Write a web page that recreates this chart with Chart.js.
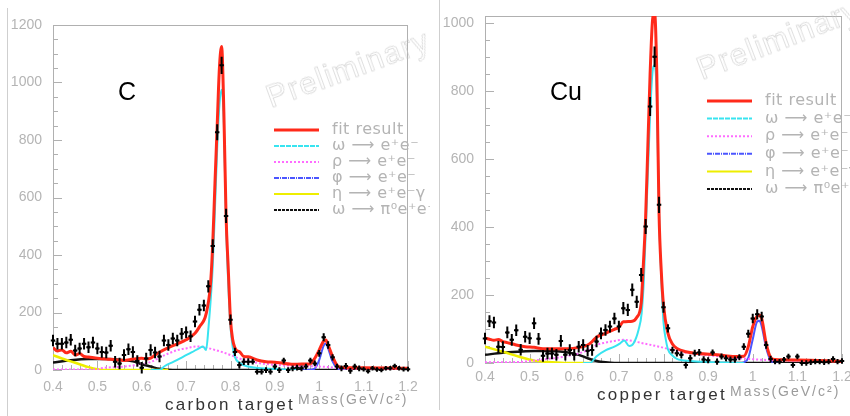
<!DOCTYPE html>
<html>
<head>
<meta charset="utf-8">
<script src="https://cdn.jsdelivr.net/npm/chart.js@4.4.1/dist/chart.umd.min.js"></script>
<style>
  html, body { margin: 0; padding: 0; background: #fff; }
  body { width: 850px; height: 416px; position: relative; overflow: hidden; font-family: "Liberation Sans", Arial, sans-serif; }
  canvas { position: absolute; top: 0; }
  .vline { position: absolute; width: 1px; background: #cfcfcf; }
  .txt { position: absolute; white-space: nowrap; line-height: 1; }
  .tag { font-size: 25px; color: #000; }
  .target { font-size: 17px; color: #333; letter-spacing: 2.3px; }
  .mass { font-size: 14px; color: #9c9c9c; letter-spacing: 2px; }
  .prelim { font-size: 31px; color: rgba(255,255,255,0); -webkit-text-stroke: 0.5px #c6c6c6; letter-spacing: 1.5px; transform-origin: 0 26px; }
</style>
</head>
<body>
<div class="vline" style="left:7px; top:8px; height:408px"></div>
<div class="vline" style="left:439px; top:0; height:410px"></div>
<canvas id="carbonChart" width="430" height="416" style="left:0"></canvas>
<canvas id="copperChart" width="420" height="416" style="left:430px"></canvas>
<div class="txt tag" style="left:118px; top:79px">C</div>
<div class="txt tag" style="left:550px; top:79px">Cu</div>
<div class="txt target" style="left:165px; top:396px">carbon target</div>
<div class="txt mass" style="left:298px; top:392px">Mass(GeV/c²)</div>
<div class="txt target" style="left:597px; top:386px">copper target</div>
<div class="txt mass" style="left:730px; top:384px">Mass(GeV/c²)</div>
<div class="txt prelim" style="left:271px; top:82px; transform:rotate(-20deg)">Preliminary</div>
<div class="txt prelim" style="left:702px; top:54px; transform:rotate(-21deg)">Preliminary</div>
<script>
// bin centres, GeV/c^2
const massBins = [0.40, 0.41, 0.42, 0.43, 0.44, 0.45, 0.46, 0.47, 0.48, 0.49,
    0.50, 0.51, 0.52, 0.53, 0.54, 0.55, 0.56, 0.57, 0.58, 0.59,
    0.60, 0.61, 0.62, 0.63, 0.64, 0.65, 0.66, 0.67, 0.68, 0.69,
    0.70, 0.71, 0.72, 0.73, 0.74, 0.75, 0.76, 0.77, 0.78, 0.79,
    0.80, 0.81, 0.82, 0.83, 0.84, 0.85, 0.86, 0.87, 0.88, 0.89,
    0.90, 0.91, 0.92, 0.93, 0.94, 0.95, 0.96, 0.97, 0.98, 0.99,
    1.00, 1.01, 1.02, 1.03, 1.04, 1.05, 1.06, 1.07, 1.08, 1.09,
    1.10, 1.11, 1.12, 1.13, 1.14, 1.15, 1.16, 1.17, 1.18, 1.19, 1.20];

const carbonCounts = [103, 91, 91, 96, 105, 68, 75, 91, 79, 96,
    75, 63, 61, 84, 29, 23, 52, 72, 63, 31,
    8, 40, 70, 61, 47, 103, 87, 110, 103, 126,
    131, 117, 169, 210, 224, 291, 431, 827, 1060, 536,
    175, 63, 17, 29, 29, 29, -6, -6, 0, -6,
    12, 0, 33, 0, 6, 8, 6, 12, 33, 23,
    58, 114, 87, 44, 12, 6, 14, -3, 12, 6,
    3, -4, 6, 2, 0, 6, 6, 14, 6, 3, 3];
const carbonErrors = [20, 20, 20, 20, 20, 20, 20, 20, 20, 20,
    20, 20, 20, 20, 20, 20, 20, 20, 20, 20,
    20, 20, 20, 20, 20, 20, 20, 20, 20, 20,
    20, 20, 20, 20, 20, 21, 24, 28, 30, 25,
    18, 14, 12, 12, 12, 10, 10, 10, 10, 10,
    10, 10, 10, 10, 10, 10, 10, 10, 10, 10,
    12, 14, 13, 11, 10, 10, 10, 10, 10, 10,
    8, 8, 8, 8, 8, 8, 8, 8, 8, 8, 8];

const copperCounts = [72, 123, 119, 48, 47, 90, 68, 96, 39, 77,
    73, 117, 71, 21, 28, 28, 24, 65, 24, 38,
    24, 48, 53, 36, 38, 63, 87, 97, 107, 131,
    107, 161, 156, 215, 180, 259, 401, 754, 900, 465,
    164, 102, 38, 29, 24, -6, 14, 29, 31, 10,
    8, 31, 4, 19, 14, 10, 10, 17, 48, 86,
    131, 143, 137, 53, 12, 4, 4, 10, 19, -6,
    19, 0, 0, 2, 4, 4, 2, 4, 12, 4, 6];
const copperErrors = [17, 17, 17, 17, 17, 17, 17, 17, 17, 17,
    17, 17, 17, 17, 17, 17, 17, 17, 17, 17,
    17, 17, 17, 17, 17, 17, 17, 17, 17, 17,
    17, 18, 18, 19, 18, 20, 22, 28, 30, 24,
    16, 12, 10, 10, 10, 10, 10, 10, 10, 10,
    9, 9, 9, 9, 9, 9, 9, 9, 10, 12,
    14, 15, 14, 11, 9, 8, 8, 8, 8, 8,
    8, 8, 8, 8, 8, 8, 8, 8, 8, 8, 8];

// fit components, [mass, counts]
const carbonFit = [[0.40, 78], [0.41, 66], [0.42, 70], [0.43, 60], [0.44, 65], [0.45, 52], [0.46, 57], [0.47, 47], [0.48, 45],
    [0.50, 41], [0.52, 38], [0.54, 36], [0.56, 33], [0.58, 38], [0.60, 41], [0.61, 38], [0.62, 41], [0.63, 52], [0.64, 62],
    [0.66, 78], [0.68, 91], [0.70, 105], [0.72, 128], [0.73, 150], [0.745, 195], [0.755, 300], [0.76, 440], [0.765, 650],
    [0.77, 850], [0.775, 1050], [0.78, 1125], [0.785, 900], [0.79, 536], [0.795, 350], [0.80, 175], [0.805, 105], [0.81, 77],
    [0.815, 66], [0.82, 64], [0.83, 47], [0.84, 46], [0.86, 35], [0.88, 29], [0.90, 27], [0.92, 23], [0.95, 20], [0.97, 21],
    [0.98, 22], [0.99, 41], [1.00, 70], [1.01, 101], [1.015, 104], [1.02, 87], [1.03, 47], [1.04, 17], [1.05, 9], [1.10, 8], [1.20, 6]];
const carbonOmega = [[0.62, 0], [0.64, 0], [0.652, 14], [0.672, 29], [0.691, 44], [0.712, 61], [0.732, 78], [0.738, 82],
    [0.745, 70], [0.75, 140], [0.76, 361], [0.765, 560], [0.77, 770], [0.775, 920], [0.78, 975], [0.785, 860], [0.79, 510],
    [0.795, 300], [0.80, 150], [0.805, 80], [0.81, 45], [0.82, 25], [0.84, 12], [0.88, 5], [0.92, 2], [0.95, 0]];
const carbonRho = [[0.40, 2], [0.50, 2], [0.509, 6], [0.561, 12], [0.601, 21], [0.622, 29], [0.641, 44], [0.661, 58],
    [0.682, 70], [0.702, 76], [0.722, 82], [0.738, 80], [0.76, 72], [0.78, 63], [0.80, 52], [0.82, 40], [0.845, 29],
    [0.90, 18], [0.95, 14], [1.00, 12], [1.03, 9], [1.05, 5], [1.10, 3], [1.20, 2]];
const carbonPhi = [[0.96, 0], [0.97, 0], [0.98, 1], [0.99, 5], [1.00, 35], [1.01, 85], [1.015, 92], [1.02, 75], [1.03, 30],
    [1.04, 6], [1.05, 0], [1.06, 0]];
const carbonEta = [[0.40, 52], [0.42, 40], [0.44, 30], [0.46, 20], [0.48, 10], [0.50, 3], [0.52, 0], [0.66, 0]];
const carbonDalitz = [[0.40, 26], [0.44, 34], [0.48, 38], [0.52, 38], [0.56, 34], [0.58, 30], [0.60, 20], [0.62, 12],
    [0.64, 4], [0.66, 1], [0.68, 0], [1.20, 0]];

const copperFit = [[0.40, 73], [0.41, 70], [0.42, 67], [0.43, 69], [0.44, 63], [0.45, 60], [0.46, 57], [0.47, 53], [0.49, 48],
    [0.51, 46], [0.53, 42], [0.56, 42], [0.59, 42], [0.61, 46], [0.63, 53], [0.64, 63], [0.65, 76], [0.67, 87], [0.69, 99],
    [0.70, 105], [0.71, 121], [0.73, 123], [0.74, 134], [0.75, 176], [0.755, 293], [0.76, 430], [0.765, 640], [0.77, 850],
    [0.775, 1000], [0.78, 1030], [0.785, 850], [0.79, 440], [0.795, 270], [0.80, 170], [0.81, 87], [0.82, 56], [0.83, 43],
    [0.85, 33], [0.88, 28], [0.92, 24], [0.96, 19], [0.98, 20], [0.99, 48], [1.00, 107], [1.01, 138], [1.015, 140],
    [1.02, 131], [1.03, 58], [1.04, 17], [1.05, 10], [1.10, 9], [1.20, 5]];
const copperOmega = [[0.62, 0], [0.635, 0], [0.65, 20], [0.671, 38], [0.69, 48], [0.703, 58], [0.712, 66], [0.723, 50],
    [0.733, 58], [0.744, 97], [0.751, 146], [0.756, 244], [0.76, 380], [0.765, 560], [0.77, 730], [0.775, 850], [0.78, 875],
    [0.785, 780], [0.79, 440], [0.795, 250], [0.80, 120], [0.805, 70], [0.81, 40], [0.82, 22], [0.83, 12], [0.86, 6],
    [0.90, 3], [0.95, 1], [0.98, 0]];
const copperRho = [[0.40, 2], [0.48, 3], [0.50, 6], [0.535, 11], [0.57, 17], [0.61, 28], [0.63, 38], [0.65, 53], [0.67, 60],
    [0.69, 65], [0.71, 68], [0.73, 65], [0.75, 59], [0.79, 48], [0.837, 33], [0.889, 24], [0.949, 17], [1.00, 11],
    [1.076, 7], [1.20, 5]];
const copperPhi = [[0.96, 0], [0.97, 0], [0.98, 2], [0.99, 15], [1.00, 70], [1.01, 122], [1.015, 124], [1.02, 108],
    [1.03, 45], [1.04, 8], [1.05, 0], [1.06, 0]];
const copperEta = [[0.40, 48], [0.44, 33], [0.475, 19], [0.51, 7], [0.55, 2], [0.585, 0], [0.64, 0]];
const copperDalitz = [[0.40, 24], [0.44, 30], [0.475, 33], [0.51, 35], [0.55, 35], [0.59, 30], [0.61, 24], [0.63, 14],
    [0.65, 6], [0.67, 2], [0.69, 0], [1.20, 0]];

const legendLabels = ['fit result', 'ω ⟶ e⁺e⁻', 'ρ ⟶ e⁺e⁻', 'φ ⟶ e⁺e⁻', 'η ⟶ e⁺e⁻γ', 'ω ⟶ π⁰e⁺e⁻'];
const xTicks = [0.4, 0.5, 0.6, 0.7, 0.8, 0.9, 1.0, 1.1, 1.2];
const carbonYTicks = [0, 200, 400, 600, 800, 1000, 1200];
const copperYTicks = [0, 200, 400, 600, 800, 1000];

// ROOT style frame with inward ticks
const rootFrame = {
    id: 'rootFrame',
    beforeDatasetsDraw(chart) {
        const {ctx, chartArea: a, scales: {x, y}} = chart;
        ctx.save();
        ctx.strokeStyle = '#b0b0b0';
        ctx.lineWidth = 1;
        ctx.strokeRect(a.left + 0.5, a.top + 0.5, a.width - 1, a.height - 1);
        ctx.beginPath();
        for (let i = 0; i <= 40; i++) {
            const px = Math.round(x.getPixelForValue(0.4 + i * 0.02)) + 0.5;
            const len = i % 5 === 0 ? 9 : 5;
            ctx.moveTo(px, a.bottom);
            ctx.lineTo(px, a.bottom - len);
        }
        for (let v = 0; v <= y.max; v += 50) {
            const py = Math.round(y.getPixelForValue(v)) + 0.5;
            const len = v % 200 === 0 ? 9 : 5;
            ctx.moveTo(a.left, py);
            ctx.lineTo(a.left + len, py);
        }
        ctx.stroke();
        ctx.restore();
    }
};

const errorBars = {
    id: 'errorBars',
    afterDatasetsDraw(chart) {
        const {ctx, scales: {x, y}} = chart;
        const ds = chart.data.datasets.find(d => d.errors);
        ctx.save();
        ctx.strokeStyle = '#000';
        ctx.lineWidth = 2;
        ctx.beginPath();
        ds.data.forEach((p, i) => {
            const px = x.getPixelForValue(p.x);
            const py = y.getPixelForValue(p.y);
            ctx.moveTo(px, y.getPixelForValue(p.y - ds.errors[i]));
            ctx.lineTo(px, y.getPixelForValue(p.y + ds.errors[i]));
            ctx.moveTo(x.getPixelForValue(p.x - 0.005), py);
            ctx.lineTo(x.getPixelForValue(p.x + 0.005), py);
        });
        ctx.stroke();
        ctx.restore();
    }
};

const fitLegend = {
    id: 'fitLegend',
    afterDraw(chart, args, o) {
        const ctx = chart.ctx;
        ctx.save();
        ctx.font = o.size + 'px "DejaVu Sans", "Liberation Sans", sans-serif';
        ctx.letterSpacing = '0.5px';
        ctx.textBaseline = 'middle';
        chart.data.datasets.filter(d => d.label).forEach((d, i) => {
            const y = o.top + i * o.step;
            ctx.strokeStyle = d.borderColor;
            ctx.lineWidth = d.label === legendLabels[0] ? 3 : 2;
            ctx.setLineDash(d.legendDash || []);
            ctx.beginPath();
            ctx.moveTo(o.left, y);
            ctx.lineTo(o.left + 45, y);
            ctx.stroke();
            ctx.fillStyle = '#b4b4b4';
            ctx.fillText(d.label, o.left + 58, y);
        });
        ctx.restore();
    }
};

function toPts(pairs) {
    return pairs.map(([x, y]) => ({x, y}));
}

function curve(label, pairs, color, width, dash, legendDash) {
    return {
        label: label, data: toPts(pairs), showLine: true, borderColor: color, borderWidth: width,
        borderDash: dash, legendDash: legendDash, pointRadius: 0, fill: false, cubicInterpolationMode: 'monotone'
    };
}

function buildChart(id, p) {
    const datasets = [
        curve(legendLabels[0], p.fit, '#ff2a1a', 3, [], []),
        curve(legendLabels[1], p.omega, '#38e4f0', 2, [], [5, 1]),
        curve(legendLabels[2], p.rho, '#ff6cff', 2, [2, 2], [2, 2]),
        curve(legendLabels[3], p.phi, '#4b55ff', 2, [], [5, 1, 1, 1]),
        curve(legendLabels[4], p.eta, '#eeee00', 2.5, [], []),
        curve(legendLabels[5], p.dalitz, '#111111', 2.5, [], [3, 1]),
        {
            data: massBins.map((m, i) => ({x: m, y: p.counts[i]})),
            errors: p.errors, pointRadius: 1.5, backgroundColor: '#000', borderWidth: 0
        }
    ];
    return new Chart(document.getElementById(id), {
        type: 'scatter',
        data: {datasets: datasets},
        options: {
            responsive: false,
            animation: false,
            layout: {padding: p.pad},
            plugins: {
                legend: {display: false},
                tooltip: {enabled: false},
                fitLegend: p.legend
            },
            scales: {
                x: {
                    type: 'linear', min: 0.4, max: 1.2,
                    grid: {display: false, drawTicks: false}, border: {display: false},
                    afterBuildTicks: s => { s.ticks = xTicks.map(v => ({value: v})); },
                    ticks: {
                        autoSkip: false, maxRotation: 0, padding: p.xPad, color: '#b4b4b4',
                        font: {size: 14}, callback: v => String(+v.toFixed(1))
                    },
                    afterFit: s => { s.height = p.xHeight; s.paddingLeft = 0; s.paddingRight = 0; }
                },
                y: {
                    type: 'linear', min: 0, max: p.yMax,
                    grid: {display: false, drawTicks: false}, border: {display: false},
                    afterBuildTicks: s => { s.ticks = p.yTicks.map(v => ({value: v})); },
                    ticks: {autoSkip: false, padding: 11, color: '#b4b4b4', font: {size: 14}, callback: v => String(v)},
                    afterFit: s => { s.width = 46; s.paddingTop = 0; s.paddingBottom = 0; }
                }
            }
        },
        plugins: [rootFrame, errorBars, fitLegend]
    });
}

document.addEventListener('DOMContentLoaded', function() {
    Chart.defaults.font.family = '"Liberation Sans", Arial, sans-serif';

    buildChart('carbonChart', {
        counts: carbonCounts, errors: carbonErrors,
        fit: carbonFit, omega: carbonOmega, rho: carbonRho, phi: carbonPhi, eta: carbonEta, dalitz: carbonDalitz,
        yMax: 1200, yTicks: carbonYTicks, xHeight: 46, xPad: 9,
        pad: {left: 7, right: 22, top: 25, bottom: 0},
        legend: {left: 274, top: 130, step: 16, size: 16}
    });

    buildChart('copperChart', {
        counts: copperCounts, errors: copperErrors,
        fit: copperFit, omega: copperOmega, rho: copperRho, phi: copperPhi, eta: copperEta, dalitz: copperDalitz,
        yMax: 1020, yTicks: copperYTicks, xHeight: 53, xPad: 6,
        pad: {left: 9, right: 8, top: 16, bottom: 0},
        legend: {left: 277, top: 101, step: 17.6, size: 16}
    });
});
</script>
</body>
</html>
